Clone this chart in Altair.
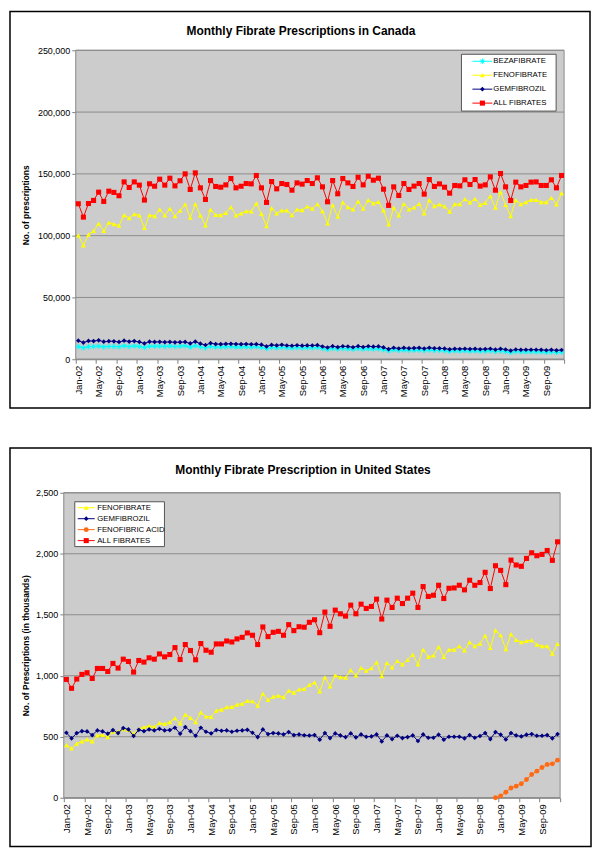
import json
import altair as alt
import pandas as pd

FONT = "Liberation Sans"

MONTH_ABBR = ["Jan", "Feb", "Mar", "Apr", "May", "Jun", "Jul", "Aug", "Sep", "Oct", "Nov", "Dec"]
YEARS = ["02", "03", "04", "05", "06", "07", "08", "09"]
months = [f"{m}-{y}" for y in YEARS for m in MONTH_ABBR]
tick_labels = months[::4]

# ---------------- Canada (number of prescriptions) ----------------
ca_beza = [10200, 9300, 10100, 10300, 10600, 10000, 10400, 10300, 10100, 10800, 10300, 10700,
           10400, 9500, 10600, 10500, 10600, 10400, 10700, 10300, 10500, 10900, 9800, 11000,
           10000, 9200, 10300, 9900, 9900, 10000, 10200, 9800, 9900, 10000, 9800, 10100,
           9600, 8600, 9500, 9200, 9500, 9300, 9100, 9400, 9200, 9300, 9200, 9500,
           8700, 7900, 8700, 8300, 8600, 8400, 8100, 8600, 8200, 8500, 8300, 8400,
           7800, 6800, 7600, 7200, 7500, 7200, 7300, 7400, 7000, 7500, 7100, 7200,
           6900, 6400, 6800, 6700, 6800, 6600, 6700, 6500, 6500, 6800, 6300, 6700,
           6200, 5500, 6200, 6000, 6000, 6000, 6000, 5900, 5700, 5900, 5600, 5800]
ca_feno = [100300, 92200, 100800, 103800, 109700, 103800, 110500, 109400, 108100, 116700, 114200, 117500,
           116400, 106200, 116700, 115900, 121200, 116400, 121800, 115900, 120200, 125300, 114500, 125500,
           116400, 108300, 121000, 116900, 116700, 118500, 123100, 116400, 118000, 119900, 119600, 126100,
           117700, 107800, 122300, 118000, 120400, 120400, 116700, 121200, 120700, 123600, 121800, 125500,
           119900, 110000, 124700, 115300, 126900, 123100, 121200, 127700, 121800, 128800, 126100, 127400,
           120400, 109100, 122600, 116400, 125800, 121200, 122800, 125800, 118000, 128800, 123900, 125300,
           123700, 119400, 125500, 125500, 129600, 126900, 129800, 125000, 126600, 132000, 122600, 135200,
           125000, 115900, 128800, 125500, 127200, 129000, 129000, 127200, 127200, 130600, 125300, 134400]
ca_gem = [15000, 13500, 14800, 14700, 15300, 14200, 14600, 14500, 14000, 15000, 14300, 14700,
          14000, 12800, 14200, 14000, 14100, 13800, 14000, 13700, 13800, 14000, 12800, 14300,
          12600, 11500, 13000, 12300, 12200, 12400, 12500, 12300, 12200, 12300, 12100, 12200,
          11800, 10400, 11600, 11200, 11700, 11100, 10900, 11300, 11000, 11200, 11100, 11400,
          10300, 9500, 10600, 9800, 10500, 10300, 9700, 10600, 9900, 10500, 10200, 10400,
          9600, 8200, 9300, 8700, 9200, 8800, 9000, 9200, 8600, 9300, 8800, 8800,
          8600, 8000, 8400, 8300, 8500, 8200, 8400, 8100, 8200, 8500, 7800, 8400,
          7900, 7000, 7900, 7600, 7700, 7700, 7700, 7600, 7300, 7600, 7200, 7500]
ca_all = [125800, 115000, 126000, 128500, 135200, 127700, 136000, 135000, 132300, 143500, 139000, 143500,
          140900, 128800, 142000, 140000, 145700, 140900, 146500, 140300, 144400, 150000, 137400, 150800,
          138700, 129300, 144600, 139800, 139200, 141100, 146200, 138700, 140000, 142200, 141900, 148700,
          138700, 126900, 143800, 137900, 142200, 141400, 136800, 142700, 141700, 144600, 142200, 146800,
          139500, 127400, 144600, 133900, 146200, 142700, 139800, 147300, 141100, 148100, 144900, 146500,
          137600, 124500, 139500, 132500, 142200, 137400, 140100, 142200, 133600, 145400, 139800, 141900,
          139200, 134400, 140600, 140300, 145200, 141400, 145400, 140100, 141100, 147600, 136800, 150300,
          139500, 128500, 143300, 139500, 140600, 143300, 143500, 140600, 140600, 145200, 138700, 148700]

# ---------------- United States (thousands) ----------------
us_feno = [432, 405, 443, 462, 478, 462, 511, 516, 497, 541, 541, 563,
           557, 525, 565, 579, 590, 582, 614, 606, 620, 652, 609, 682,
           655, 620, 699, 666, 663, 715, 723, 742, 745, 764, 772, 794,
           791, 756, 853, 802, 829, 837, 824, 878, 862, 889, 893, 925,
           946, 872, 987, 913, 1003, 989, 984, 1046, 1003, 1065, 1041, 1063,
           1109, 997, 1106, 1068, 1122, 1093, 1131, 1174, 1093, 1215, 1155, 1166,
           1237, 1155, 1215, 1215, 1242, 1207, 1275, 1242, 1264, 1329, 1228, 1372,
           1332, 1218, 1342, 1294, 1275, 1285, 1291, 1256, 1242, 1242, 1182, 1261]
us_gem = [533, 487, 530, 546, 544, 514, 552, 544, 525, 555, 530, 571,
          560, 506, 557, 546, 560, 552, 565, 552, 555, 574, 525, 579,
          546, 508, 574, 541, 527, 555, 549, 552, 541, 549, 552, 557,
          533, 497, 560, 522, 530, 527, 519, 538, 514, 519, 512, 510,
          514, 476, 530, 489, 527, 511, 497, 527, 495, 519, 500, 503,
          519, 462, 511, 481, 508, 489, 497, 511, 465, 519, 492, 492,
          517, 476, 500, 500, 500, 487, 514, 492, 506, 530, 481, 538,
          517, 478, 530, 511, 503, 517, 522, 508, 508, 514, 487, 522]
us_acid = [None] * 83 + [0, 15, 45, 80, 95, 115, 150, 190, 218, 248, 272, 278, 308]
us_all = [970, 897, 973, 1011, 1025, 978, 1060, 1060, 1035, 1101, 1063, 1136,
          1117, 1030, 1125, 1112, 1147, 1136, 1179, 1155, 1174, 1231, 1133, 1256,
          1207, 1131, 1264, 1209, 1193, 1261, 1261, 1285, 1277, 1302, 1315, 1351,
          1332, 1256, 1400, 1321, 1356, 1364, 1332, 1419, 1370, 1402, 1398, 1438,
          1459, 1353, 1522, 1405, 1538, 1508, 1489, 1579, 1508, 1587, 1552, 1568,
          1628, 1465, 1620, 1560, 1636, 1592, 1636, 1677, 1560, 1731, 1650, 1660,
          1742, 1633, 1717, 1720, 1742, 1704, 1783, 1742, 1764, 1848, 1715, 1902,
          1864, 1747, 1948, 1908, 1897, 1962, 2008, 1984, 1995, 2027, 1946, 2098]

ASTERISK = "M-1,0L1,0M0,-1L0,1M-0.7,-0.7L0.7,0.7M-0.7,0.7L0.7,-0.7"

STYLE = {
    "BEZAFIBRATE": dict(color="#00FFFF", shape=ASTERISK, filled=False, size=30),
    "FENOFIBRATE": dict(color="#FFFF00", shape="triangle-up", filled=True, size=24),
    "GEMFIBROZIL": dict(color="#000080", shape="diamond", filled=True, size=22),
    "FENOFIBRIC ACID": dict(color="#FF6A13", shape="circle", filled=True, size=24),
    "ALL FIBRATES": dict(color="#FF0000", shape="square", filled=True, size=26),
}

PLOT_BG = "#CCCCCC"
GRID = "#8C8C8C"
one = pd.DataFrame({"k": [0]})


def make_panel(title, series, ymax, ystep, ytitle, w, h, shift, border, title_pos,
               legend_box, legend_rows, legend_line, title_pad):
    # the plot area spans x from -shift to w (pixels, relative to the panel origin)
    band = (w + shift) / 96.0
    tick_vals = [-0.5 + 4 * k for k in range(25)]
    y_vals = list(range(0, ymax + 1, ystep))
    label_expr = ("(round((datum.value + 0.5) / 4) < {n}) ? {arr}[round((datum.value + 0.5) / 4)] : ''"
                  .format(n=len(tick_labels), arr=json.dumps(tick_labels)))
    x_enc = alt.X("idx:Q",
                  scale=alt.Scale(domain=[-0.5, 95.5], range=[-shift, w], nice=False, zero=False),
                  axis=alt.Axis(values=tick_vals, labelExpr=label_expr, labelAngle=-90,
                                labelOffset=band / 2, title=None, grid=False,
                                labelOverlap=False, labelFlush=False, labelBound=False,
                                tickSize=4, labelPadding=2, labelFont=FONT, labelFontSize=9.5,
                                labelColor="#000000", domainColor="#808080", tickColor="#808080"))
    y_enc = alt.Y("value:Q",
                  scale=alt.Scale(domain=[0, ymax], nice=False, zero=True),
                  axis=alt.Axis(values=y_vals, offset=shift,
                                labelExpr="format(datum.value, ',')", title=ytitle,
                                titleFont=FONT, titleFontSize=8.5, titleFontWeight="bold",
                                titleColor="#000000", titlePadding=title_pad,
                                labelFont=FONT, labelFontSize=9, labelColor="#000000",
                                tickSize=4, labelPadding=2, domainColor="#808080",
                                tickColor="#808080", grid=False))

    layers = []
    bx0, bx1, by0, by1 = border
    layers.append(alt.Chart(one).mark_rect(fill="transparent", stroke="#000000", strokeWidth=1.5)
                  .encode(x=alt.value(bx0), x2=alt.value(bx1), y=alt.value(by0), y2=alt.value(by1)))
    # plot area background
    layers.append(alt.Chart(one).mark_rect(fill=PLOT_BG, stroke=GRID, strokeWidth=1)
                  .encode(x=alt.value(-shift), x2=alt.value(w), y=alt.value(0), y2=alt.value(h)))
    # horizontal gridlines at the y ticks
    grid_df = pd.DataFrame({"value": y_vals})
    layers.append(alt.Chart(grid_df).mark_rule(color=GRID, strokeWidth=1)
                  .encode(y=y_enc, x=alt.value(-shift), x2=alt.value(w)))
    layers.append(alt.Chart(one).mark_text(text=title, font=FONT, fontSize=12, fontWeight="bold",
                                           color="#000000", align="center", baseline="middle")
                  .encode(x=alt.value(title_pos[0]), y=alt.value(title_pos[1])))

    for name, vals in series:
        st = STYLE[name]
        df = pd.DataFrame({"idx": list(range(96)), "month": months, "value": vals})
        df = df.dropna()
        base = alt.Chart(df)
        layers.append(base.mark_line(color=st["color"], strokeWidth=1).encode(x=x_enc, y=y_enc))
        layers.append(base.mark_point(shape=st["shape"], filled=st["filled"], color=st["color"],
                                      size=st["size"], opacity=1, strokeWidth=1)
                      .encode(x=x_enc, y=y_enc))

    lx0, lx1, ly0, ly1 = legend_box
    layers.append(alt.Chart(one).mark_rect(fill="#FFFFFF", stroke="#555555", strokeWidth=1)
                  .encode(x=alt.value(lx0), x2=alt.value(lx1), y=alt.value(ly0), y2=alt.value(ly1)))
    l0, lm, l1, lt = legend_line
    for (name, _), ry in zip(series, legend_rows):
        st = STYLE[name]
        layers.append(alt.Chart(one).mark_rule(color=st["color"], strokeWidth=1)
                      .encode(x=alt.value(l0), x2=alt.value(l1), y=alt.value(ry)))
        layers.append(alt.Chart(one).mark_point(shape=st["shape"], filled=st["filled"],
                                                color=st["color"], size=st["size"], opacity=1,
                                                strokeWidth=1)
                      .encode(x=alt.value(lm), y=alt.value(ry)))
        layers.append(alt.Chart(one).mark_text(text=name, font=FONT, fontSize=7.8, color="#000000",
                                               align="left", baseline="middle")
                      .encode(x=alt.value(lt), y=alt.value(ry)))

    return alt.layer(*layers).properties(width=w, height=h)


top = make_panel(
    "Monthly Fibrate Prescriptions in Canada",
    [("BEZAFIBRATE", ca_beza), ("FENOFIBRATE", ca_feno), ("GEMFIBROZIL", ca_gem), ("ALL FIBRATES", ca_all)],
    250000, 50000, "No. of prescriptions", 490, 310, 0,
    border=(-66, 516, -39, 359), title_pos=(226, -19),
    legend_box=(387, 482, 4, 61), legend_rows=[11, 25, 39, 53], legend_line=(398, 408, 418, 419),
    title_pad=7,
)

bottom = make_panel(
    "Monthly Fibrate Prescription in United States",
    [("FENOFIBRATE", us_feno), ("GEMFIBROZIL", us_gem), ("FENOFIBRIC ACID", us_acid), ("ALL FIBRATES", us_all)],
    2500, 500, "No. of Prescriptions (in thousands)", 486, 306, 12,
    border=(-66, 517, -45, 355), title_pos=(228, -23),
    legend_box=(-1, 89, 9, 54), legend_rows=[15, 26, 37, 48], legend_line=(2, 10.5, 19, 21.5),
    title_pad=5,
)

chart = alt.vconcat(top, bottom, spacing=36).properties(
    padding=0, background="#FFFFFF"
).configure_view(stroke="transparent", fill="transparent")

chart.save("out.html", embed_options={"renderer": "svg", "actions": False})
